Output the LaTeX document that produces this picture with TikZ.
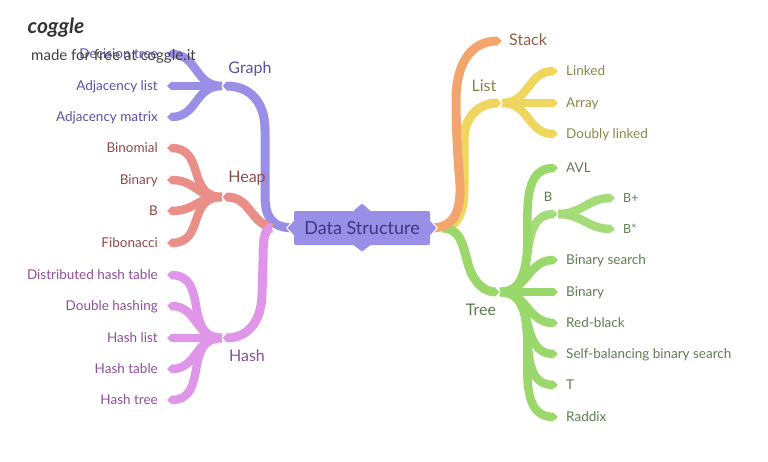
\documentclass[tikz,border=0pt]{standalone}
\usepackage{fontspec}
\setmainfont{Lato}
\usetikzlibrary{arrows.meta}
\definecolor{graphLine}{HTML}{9A8FE6}
\definecolor{graphText}{HTML}{5B50A6}
\definecolor{heapLine}{HTML}{EA8F88}
\definecolor{heapText}{HTML}{8F4A4A}
\definecolor{hashLine}{HTML}{E096E8}
\definecolor{hashText}{HTML}{8C4F98}
\definecolor{stackLine}{HTML}{F2A66E}
\definecolor{stackText}{HTML}{8F5F45}
\definecolor{listLine}{HTML}{EFD75F}
\definecolor{listText}{HTML}{8C8548}
\definecolor{treeLine}{HTML}{9BD86B}
\definecolor{treeText}{HTML}{5F7D50}
\definecolor{rootText}{HTML}{3F3580}
\tikzset{
    branch/.style={line width=9pt, -{Triangle[length=5pt,width=9pt]}},
    twig/.style={line width=8.5pt, -{Triangle[length=4.5pt,width=8.5pt]}},
    leafleft/.style={anchor=east, inner ysep=0pt, inner xsep=9pt, text height=9.5pt, text depth=0.5pt, font=\fontsize{13.5}{15}\selectfont},
    leafright/.style={anchor=west, inner ysep=0pt, inner xsep=8pt, text height=9.5pt, text depth=0.5pt, font=\fontsize{13.5}{15}\selectfont},
    grouplabel/.style={inner sep=0pt, font=\fontsize{16}{18}\selectfont},
    notch/.style={white, line width=1pt}
}
\begin{document}
\begin{tikzpicture}[x=1pt, y=-1pt]

    \useasboundingbox (0,0) rectangle (768,461);

    % root
    \node[fill=graphLine, rounded corners=2pt, minimum width=136pt, minimum height=34pt, inner sep=0pt,
        text=rootText, font=\fontsize{18}{20}\selectfont] (root) at (362,228) {Data Structure};
    \coordinate (leftfork) at (272,228);
    \coordinate (rightfork) at (442,228);

    % joints of the groups
    \coordinate (graphjoin) at (222,86);
    \coordinate (heapjoin) at (222,197);
    \coordinate (hashjoin) at (222,338);
    \coordinate (listjoin) at (502,103);
    \coordinate (treejoin) at (500,292);
    \coordinate (bjoin) at (558,214);

    % graph
    \foreach \nm/\y/\bend/\txt in {decisiontree/54/28/Decision tree, adjlist/86/20/Adjacency list, adjmatrix/117/28/Adjacency matrix} {
        \node[leafleft, text=graphText] (\nm) at (167,\y) {\txt};
        \draw[twig, graphLine] (graphjoin) .. controls +(-\bend,0) and +(\bend+3,0) .. (\nm.east);
    }
    \draw[branch, graphLine] (root.west) .. controls (270,228) and (265,215) .. (265,195)
        -- (265,130) .. controls (265,100) and (248,86) .. (graphjoin);
    \draw[notch] (226,81) -- (222,86) -- (226,91);

    % heap
    \foreach \nm/\y/\bend/\txt in {binomial/148/36/Binomial, heapbinary/180/26/Binary, heapb/211/26/B, fibonacci/243/36/Fibonacci} {
        \node[leafleft, text=heapText] (\nm) at (167,\y) {\txt};
        \draw[twig, heapLine] (heapjoin) .. controls +(-\bend,0) and +(\bend+3,0) .. (\nm.east);
    }
    \draw[branch, heapLine] (leftfork) .. controls (250,222) and (250,197) .. (heapjoin);
    \draw[notch] (226,192) -- (222,197) -- (226,202);

    % hash
    \foreach \nm/\y/\bend/\txt in {distributed/275/40/Distributed hash table, doublehash/306/28/Double hashing, hashlist/338/20/Hash list, hashtable/369/28/Hash table, hashtree/400/40/Hash tree} {
        \node[leafleft, text=hashText] (\nm) at (167,\y) {\txt};
        \draw[twig, hashLine] (hashjoin) .. controls +(-\bend,0) and +(\bend+3,0) .. (\nm.east);
    }
    \draw[branch, hashLine] (leftfork) .. controls (264,228) and (263,240) .. (263,262)
        -- (262,295) .. controls (261,325) and (245,338) .. (hashjoin);
    \draw[notch] (226,333) -- (222,338) -- (226,343);

    % list
    \foreach \nm/\y/\bend/\txt in {linked/71/28/Linked, array/103/20/Array, doubly/134/28/Doubly linked} {
        \node[leafright, text=listText] (\nm) at (558,\y) {\txt};
        \draw[twig, listLine] (listjoin) .. controls +(\bend,0) and +(-\bend-3,0) .. (\nm.west);
    }
    \draw[branch, listLine] (rightfork) .. controls (458,228) and (464,210) .. (464,190)
        -- (464,140) .. controls (464,118) and (478,103) .. (listjoin);
    \draw[notch] (498,98) -- (502,103) -- (498,108);

    % tree
    \draw[twig, treeLine!90!white] (treejoin) .. controls +(42,0) and +(-45,0) .. (bjoin);
    \foreach \nm/\y/\txt in {bplus/198/B+, bstar/229/B*} {
        \node[leafright, text=treeText, font=\fontsize{12.5}{14}\selectfont] (\nm) at (615,\y) {\txt};
        \draw[twig, treeLine!90!white] (bjoin) .. controls +(24,0) and +(-27,0) .. (\nm.west);
    }
    \draw[notch] (554,209) -- (558,214) -- (554,219);
    \foreach \nm/\y/\bend/\txt in {avl/168/55/AVL, binarysearch/260/28/Binary search, treebinary/292/20/Binary, redblack/323/28/Red-black, selfbal/354/38/Self-balancing binary search, ttree/385/48/T, raddix/417/56/Raddix} {
        \node[leafright, text=treeText] (\nm) at (558,\y) {\txt};
        \draw[twig, treeLine] (treejoin) .. controls +(\bend,0) and +(-\bend-3,0) .. (\nm.west);
    }
    \draw[branch, treeLine] (rightfork) .. controls (460,228) and (463,245) .. (467,260)
        .. controls (472,282) and (484,292) .. (treejoin);
    \draw[notch] (496,287) -- (500,292) -- (496,297);

    % stack
    \node[leafright, inner xsep=7pt, text=stackText, font=\fontsize{16}{18}\selectfont] (stack) at (502,41) {Stack};
    \draw[branch, stackLine] (root.east) .. controls (452,228) and (461,215) .. (460,185)
        .. controls (458,160) and (456,130) .. (456,100) .. controls (456,65) and (470,41) .. (stack.west);

    % tips of the root
    \filldraw[graphLine] (root.north) ++(-8,0) -- ++(8,-7) -- ++(8,7);
    \filldraw[graphLine] (root.south) ++(-8,0) -- ++(8,6) -- ++(8,-6);
    \filldraw[fill=graphLine, draw=white, line width=1pt] (root.west) ++(0,-8) -- ++(-7,8) -- ++(7,8);
    \filldraw[fill=graphLine, draw=white, line width=1pt] (root.east) ++(0,-8) -- ++(7,8) -- ++(-7,8);

    % group labels
    \node[grouplabel, text=graphText] (graph) at (250,69) {Graph};
    \node[grouplabel, text=heapText] (heap) at (247,178) {Heap};
    \node[grouplabel, text=hashText] (hash) at (247,356) {Hash};
    \node[grouplabel, text=listText] (list) at (484,86) {List};
    \node[grouplabel, text=treeText] (tree) at (481,310) {Tree};
    \node[inner sep=0pt, text=treeText, font=\fontsize{13}{14}\selectfont] (blabel) at (548,197) {B};

    % logo
    \node[inner sep=0pt, text=black!80, font=\fontsize{21}{22}\selectfont\bfseries\itshape] (logo) at (56,28) {coggle};
    \node[anchor=west, inner sep=0pt, text=black!75, font=\fontsize{15}{16}\selectfont] (madefor) at (31,56) {made for free at coggle.it};

\end{tikzpicture}
\end{document}
